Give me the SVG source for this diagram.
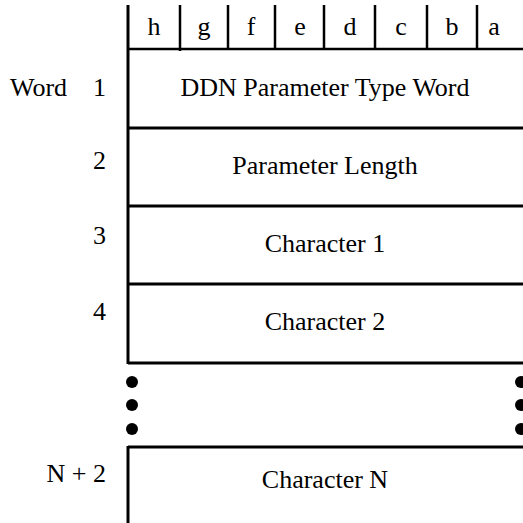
<svg xmlns="http://www.w3.org/2000/svg" width="523" height="523" viewBox="0 0 523 523">
<style>
text{font-family:"Liberation Serif","Times New Roman",serif;font-size:26px;fill:#000}
.c{text-anchor:middle}
.r{text-anchor:end}
line{stroke:#000;stroke-width:3}
.t{stroke-width:2.5}
circle{fill:#000}
</style>
<rect width="523" height="523" fill="#fff"/>
<g id="connectors">
<line x1="128" y1="5" x2="128" y2="364"/>
<line x1="128" y1="446" x2="128" y2="523"/>
<line class="t" x1="128" y1="49" x2="523" y2="49"/>
<line class="t" x1="180" y1="5" x2="180" y2="51"/>
<line class="t" x1="228" y1="5" x2="228" y2="49"/>
<line class="t" x1="275" y1="5" x2="275" y2="49"/>
<line class="t" x1="324" y1="5" x2="324" y2="49"/>
<line class="t" x1="375" y1="5" x2="375" y2="49"/>
<line class="t" x1="427" y1="5" x2="427" y2="49"/>
<line class="t" x1="477" y1="5" x2="477" y2="49"/>
</g>
<g id="header">
<text class="c" x="154" y="35">h</text>
<text class="c" x="204" y="35">g</text>
<text class="c" x="251" y="35">f</text>
<text class="c" x="300" y="35">e</text>
<text class="c" x="350" y="35">d</text>
<text class="c" x="401" y="35">c</text>
<text class="c" x="452" y="35">b</text>
<text class="c" x="494" y="35">a</text>
</g>
<g id="word1">
<text x="10" y="96">Word</text>
<text class="r" x="106" y="96">1</text>
<line x1="128" y1="128" x2="523" y2="128"/>
<text class="c" x="325" y="96">DDN Parameter Type Word</text>
</g>
<g id="word2">
<text class="r" x="106" y="169">2</text>
<line x1="128" y1="206" x2="523" y2="206"/>
<text class="c" x="325" y="174">Parameter Length</text>
</g>
<g id="word3">
<text class="r" x="106" y="244">3</text>
<line x1="128" y1="284" x2="523" y2="284"/>
<text class="c" x="325" y="252">Character 1</text>
</g>
<g id="word4">
<text class="r" x="106" y="320">4</text>
<line x1="128" y1="363" x2="523" y2="363"/>
<text class="c" x="325" y="330">Character 2</text>
</g>
<g id="ellipsis">
<circle cx="132" cy="382" r="6"/>
<circle cx="132" cy="405" r="6"/>
<circle cx="132" cy="429" r="6"/>
<circle cx="521" cy="382" r="6"/>
<circle cx="521" cy="405" r="6"/>
<circle cx="521" cy="429" r="6"/>
</g>
<g id="wordN">
<text class="r" x="106" y="482">N + 2</text>
<line x1="128" y1="447" x2="523" y2="447"/>
<text class="c" x="325" y="488">Character N</text>
</g>
</svg>
